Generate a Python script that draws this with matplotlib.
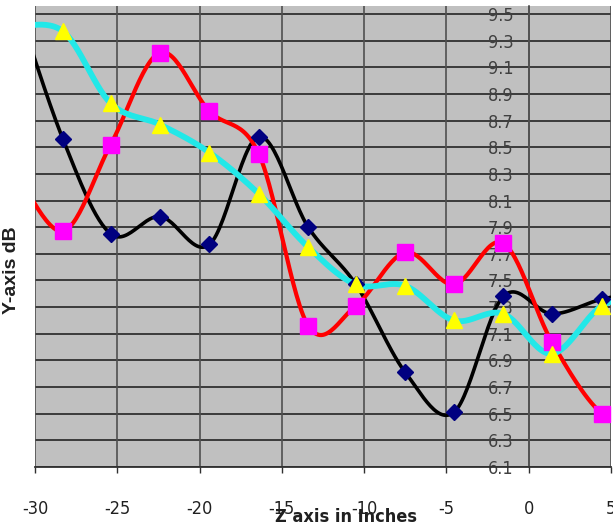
import numpy as np
import matplotlib
matplotlib.use("Agg")
import matplotlib.pyplot as plt
from matplotlib import font_manager

# ---- data ----
z_in = [-31.3, -28.3, -25.4, -22.4, -19.4, -16.4, -13.4, -10.5, -7.5, -4.55, -1.55, 1.4, 4.45, 7.45]
black_db = [9.65, 8.56, 7.85, 7.98, 7.77, 8.58, 7.90, 7.47, 6.81, 6.51, 7.38, 7.25, 7.36, 7.42]
red_db = [8.35, 7.87, 8.52, 9.21, 8.77, 8.45, 7.16, 7.31, 7.71, 7.47, 7.78, 7.04, 6.50, 6.40]
cyan_db = [9.40, 9.37, 8.83, 8.67, 8.46, 8.15, 7.75, 7.47, 7.46, 7.20, 7.25, 6.95, 7.31, 7.40]
x_ticks = [-30, -25, -20, -15, -10, -5, 0, 5]
y_ticks = [6.1, 6.3, 6.5, 6.7, 6.9, 7.1, 7.3, 7.5, 7.7, 7.9, 8.1, 8.3, 8.5, 8.7, 8.9, 9.1, 9.3, 9.5]
x_label = "Z axis in Inches"
y_label = "Y-axis dB"

names = {f.name for f in font_manager.fontManager.ttflist}
if "Liberation Sans Narrow" in names:
    narrow = dict(fontfamily="Liberation Sans Narrow")
else:
    narrow = dict(fontfamily="DejaVu Sans", fontstretch="condensed")


def smooth(x, y, n=30):
    """Excel-style smoothed line (uniform Catmull-Rom / Bezier)."""
    x = np.asarray(x, float)
    y = np.asarray(y, float)
    P = np.column_stack([x, y])
    out = []
    for i in range(len(P) - 1):
        p0 = P[i - 1] if i > 0 else P[i]
        p1 = P[i]
        p2 = P[i + 1]
        p3 = P[i + 2] if i + 2 < len(P) else P[i + 1]
        c1 = p1 + (p2 - p0) / 6.0
        c2 = p2 - (p3 - p1) / 6.0
        t = np.linspace(0, 1, n)[:, None]
        seg = ((1 - t) ** 3) * p1 + 3 * ((1 - t) ** 2) * t * c1 + 3 * (1 - t) * t ** 2 * c2 + t ** 3 * p2
        out.append(seg if i == 0 else seg[1:])
    s = np.vstack(out)
    return s[:, 0], s[:, 1]


fig = plt.figure(figsize=(6.13, 5.29), dpi=100)
ax = fig.add_axes([35 / 613, 1 - 467 / 529, (611 - 35) / 613, (467 - 6) / 529])
ax.set_facecolor("#C0C0C0")

ax.set_xlim(-30, 5)
ax.set_ylim(6.1, 9.56)

grid_c = "#303030"
for yv in y_ticks:
    ax.axhline(yv, color=grid_c, lw=1.3, zorder=1)
for xv in x_ticks:
    ax.axvline(xv, color="#505050", lw=1.2, zorder=1)

sx, sy = smooth(z_in, black_db)
ax.plot(sx, sy, color="black", lw=2.6, zorder=3, solid_capstyle="round")
sx, sy = smooth(z_in, red_db)
ax.plot(sx, sy, color="#FF0000", lw=3.0, zorder=3, solid_capstyle="round")
sx, sy = smooth(z_in, cyan_db)
ax.plot(sx, sy, color="#22E8E8", lw=4.2, zorder=4, solid_capstyle="round")

ax.plot(z_in, black_db, ls="none", marker="D", ms=8.5, color="#000080", zorder=5)
ax.plot(z_in, red_db, ls="none", marker="s", ms=11, color="#FF00FF", zorder=5)
ax.plot(z_in, cyan_db, ls="none", marker="^", ms=11, color="#FFFF00", zorder=6)

# spines
for s in ["top", "right"]:
    ax.spines[s].set_visible(False)
ax.spines["bottom"].set_color(grid_c)
ax.spines["bottom"].set_linewidth(1.3)
ax.spines["left"].set_position(("data", 0))
ax.spines["left"].set_color("#505050")
ax.spines["left"].set_linewidth(1.2)

ax.set_xticks(x_ticks)
ax.set_xticklabels([str(v) for v in x_ticks], fontsize=13, color="#202020", **narrow)
ax.tick_params(axis="x", direction="out", length=4, width=1, color=grid_c, pad=20)

ax.set_yticks(y_ticks)
ax.set_yticklabels([f"{v:.1f}" for v in y_ticks], fontsize=13, color="#404040", **narrow)
ax.tick_params(axis="y", length=0, pad=11)
for lbl in ax.get_yticklabels():
    lbl.set_zorder(2.5)

fig.text(346 / 613, 1 - 517 / 529, x_label, ha="center", va="center",
         fontweight="bold", fontsize=13, color="#202020", **narrow)
fig.text(12 / 613, 1 - 270 / 529, y_label, ha="center", va="center", rotation=90,
         fontfamily="Liberation Sans", fontweight="bold", fontsize=14, color="#202020")

fig.savefig("out.png", dpi=100)
